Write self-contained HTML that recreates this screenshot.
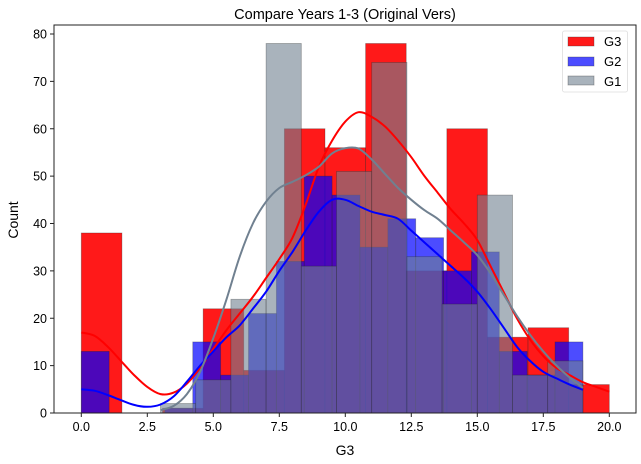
<!DOCTYPE html>
<html><head><meta charset="utf-8">
<style>
html,body{margin:0;padding:0;background:#fff;}
svg{display:block;font-family:"Liberation Sans","DejaVu Sans",sans-serif;}
</style></head>
<body>
<svg id="chart" width="641" height="464" viewBox="0 0 641 464">
  <text x="345" y="19" text-anchor="middle" font-size="14.5" fill="#000">Compare Years 1-3 (Original Vers)</text>
  <g id="bars"></g>
  <g id="lines"></g>
  <g id="axes"></g>
  <text x="345" y="455" text-anchor="middle" font-size="14">G3</text>
  <text x="18" y="220" text-anchor="middle" font-size="14" transform="rotate(-90 18 220)">Count</text>
  <g>
    <rect x="562.5" y="31" width="65" height="61" rx="2" fill="#fff" fill-opacity="0.8" stroke="#ddd" stroke-width="0.8"/>
    <rect x="568" y="37" width="26" height="9" fill="red" fill-opacity="0.9" stroke="#333" stroke-opacity="0.4" stroke-width="0.8"/>
    <text x="604" y="46" font-size="13">G3</text>
    <rect x="568" y="57" width="26" height="9" fill="blue" fill-opacity="0.7" stroke="#333" stroke-opacity="0.4" stroke-width="0.8"/>
    <text x="604" y="66" font-size="13">G2</text>
    <rect x="568" y="76" width="26" height="9" fill="slategray" fill-opacity="0.6" stroke="#333" stroke-opacity="0.4" stroke-width="0.8"/>
    <text x="604" y="86" font-size="13">G1</text>
  </g>
</svg>
<script>
const g3Range = [0, 20];
const g3Counts = [38,0,1,22,9,60,56,78,30,60,16,18,6];
const g2Range = [0, 19];
const g2Counts = [13,0,0,1,15,8,21,32,50,46,35,41,37,30,34,13,8,15];
const g1Range = [3, 19];
const g1Counts = [2,7,24,78,31,51,74,33,23,46,8,11];
const g3KdeX = [0,0.5,1,1.5,2,2.5,3,3.5,4,4.5,5,5.5,6,6.5,7,7.5,8,8.5,9,9.5,10,10.5,11,11.5,12,12.5,13,13.5,14,14.5,15,15.5,16,16.5,17,17.5,18,18.5,19,19.5,20];
const g3KdeY = [17,16.3,14,11,8,5.5,4,4.3,6.2,9.5,13.5,17.5,21,24.5,28.5,32.5,37,44,52,57.5,61.5,63.5,62.5,60.5,57.5,54,50,46.5,43,40,36.5,31,25.5,20,15.5,12,9.5,8,6.5,5.5,4.5];
const g2KdeX = [0,0.5,1,1.5,2,2.5,3,3.5,4,4.5,5,5.5,6,6.5,7,7.5,8,8.5,9,9.5,10,10.5,11,11.5,12,12.5,13,13.5,14,14.5,15,15.5,16,16.5,17,17.5,18,18.5,19];
const g2KdeY = [5,4.7,3.8,2.7,1.7,1.3,1.8,3.5,6.6,10,13,16,18.5,22,25.6,30,34,38.5,42.5,45,45,43.7,42.5,41.8,41,38.5,36,33.5,31,28.5,25.6,22,18,14,11,8.7,7.3,6,4.9];
const g1KdeX = [3,3.5,4,4.5,5,5.5,6,6.5,7,7.5,8,8.5,9,9.5,10,10.5,11,11.5,12,12.5,13,13.5,14,14.5,15,15.5,16,16.5,17,17.5,18,18.5,19];
const g1KdeY = [0.6,1.5,4,8.7,15.8,24,33,40,44.6,47.5,48.8,50.2,52,54.8,55.9,55.8,53.5,50.5,47.5,45,42.8,41,38.5,36,33.3,29.5,25,20.5,16.5,13,10,7.5,5.3];
const xTicks = [0,2.5,5,7.5,10,12.5,15,17.5,20];
const xTickLabels = ["0.0","2.5","5.0","7.5","10.0","12.5","15.0","17.5","20.0"];
const yTicks = [0,10,20,30,40,50,60,70,80];

const L=54,R=636,T=25,B=413;
const xs = v => 81.3 + v*26.4;
const ys = v => 413 - v*4.7375;
const NS="http://www.w3.org/2000/svg";
const bars=document.getElementById('bars'), lines=document.getElementById('lines'), axes=document.getElementById('axes');

function drawHist(range, counts, color, op, name){
  const w=(range[1]-range[0])/counts.length;
  counts.forEach((c,i)=>{
    if(c<=0) return;
    const a=range[0]+i*w, b=a+w;
    const r=document.createElementNS(NS,'rect');
    r.setAttribute('x',xs(a)); r.setAttribute('width',xs(b)-xs(a));
    r.setAttribute('y',ys(c)); r.setAttribute('height',ys(0)-ys(c));
    r.setAttribute('fill',color); r.setAttribute('fill-opacity',op);
    r.setAttribute('stroke','#222'); r.setAttribute('stroke-opacity','0.35'); r.setAttribute('stroke-width','0.8');
    
    
    bars.appendChild(r);
  });
}
function drawKde(xa, ya, color, name){
  const pts=xa.map((x,i)=>[xs(x),ys(ya[i])]);
  let d='M'+pts[0][0].toFixed(1)+' '+pts[0][1].toFixed(1);
  for(let i=0;i<pts.length-1;i++){
    const p0=pts[i-1]||pts[i], p1=pts[i], p2=pts[i+1], p3=pts[i+2]||pts[i+1];
    const c1=[p1[0]+(p2[0]-p0[0])/6, p1[1]+(p2[1]-p0[1])/6];
    const c2=[p2[0]-(p3[0]-p1[0])/6, p2[1]-(p3[1]-p1[1])/6];
    d+='C'+c1[0].toFixed(1)+' '+c1[1].toFixed(1)+' '+c2[0].toFixed(1)+' '+c2[1].toFixed(1)+' '+p2[0].toFixed(1)+' '+p2[1].toFixed(1);
  }
  const p=document.createElementNS(NS,'path');
  p.setAttribute('d',d); p.setAttribute('fill','none'); p.setAttribute('stroke',color);
  p.setAttribute('stroke-width','2'); p.setAttribute('stroke-linejoin','round');
  
  
  lines.appendChild(p);
}
drawHist(g3Range,g3Counts,'red',0.9,'g3');
drawHist(g2Range,g2Counts,'blue',0.7,'g2');
drawHist(g1Range,g1Counts,'slategray',0.6,'g1');
drawKde(g3KdeX,g3KdeY,'red','g3');
drawKde(g2KdeX,g2KdeY,'blue','g2');
drawKde(g1KdeX,g1KdeY,'slategray','g1');

const frame=document.createElementNS(NS,'rect');
frame.setAttribute('x',L); frame.setAttribute('y',T); frame.setAttribute('width',R-L); frame.setAttribute('height',B-T);
frame.setAttribute('fill','none'); frame.setAttribute('stroke','#222'); frame.setAttribute('stroke-width','1');


axes.appendChild(frame);
xTicks.forEach((t,i)=>{
  const l=document.createElementNS(NS,'line');
  l.setAttribute('x1',xs(t)); l.setAttribute('x2',xs(t)); l.setAttribute('y1',B); l.setAttribute('y2',B+4);
  l.setAttribute('stroke','#222');
  
  
  axes.appendChild(l);
  const tx=document.createElementNS(NS,'text');
  tx.setAttribute('x',xs(t)); tx.setAttribute('y',B+18); tx.setAttribute('text-anchor','middle'); tx.setAttribute('font-size','12.5');
  tx.textContent=xTickLabels[i];
  
  
  axes.appendChild(tx);
});
yTicks.forEach(t=>{
  const l=document.createElementNS(NS,'line');
  l.setAttribute('x1',L-4); l.setAttribute('x2',L); l.setAttribute('y1',ys(t)); l.setAttribute('y2',ys(t));
  l.setAttribute('stroke','#222');
  
  
  axes.appendChild(l);
  const tx=document.createElementNS(NS,'text');
  tx.setAttribute('x',L-7); tx.setAttribute('y',ys(t)+4.5); tx.setAttribute('text-anchor','end'); tx.setAttribute('font-size','12.5');
  tx.textContent=String(t);
  
  
  axes.appendChild(tx);
});
</script>
</body></html>
